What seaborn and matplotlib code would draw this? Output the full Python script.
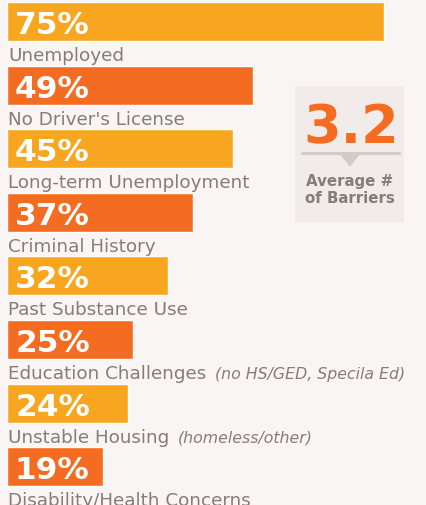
import matplotlib
matplotlib.use("Agg")
import matplotlib.pyplot as plt
from matplotlib.patches import Rectangle, Polygon
import seaborn as sns
import pandas as pd

# ---- data ----
categories = ["Unemployed", "No Driver's License", "Long-term Unemployment",
              "Criminal History", "Past Substance Use", "Education Challenges",
              "Unstable Housing", "Disability/Health Concerns"]
values = [75, 49, 45, 37, 32, 25, 24, 19]
notes = ["", "", "", "", "", "(no HS/GED, Specila Ed)", "(homeless/other)", ""]
average_barriers = 3.2
average_label = "Average #\nof Barriers"

# ---- style ----
BG = "#F8F5F4"
BOX = "#F1ECEA"
YELLOW = "#F8A51F"
ORANGE = "#F36C21"
GREY = "#857D76"
LINE = "#D3CBC5"

sns.set_theme(style="white")
plt.rcParams["font.family"] = ["DejaVu Sans"]

W, H = 426, 506
fig = plt.figure(figsize=(W / 100, H / 100), dpi=100, facecolor=BG)
ax = fig.add_axes([0, 0, 1, 1])
ax.set_facecolor(BG)

df = pd.DataFrame({"category": categories, "value": values})
palette = {c: (YELLOW if i % 2 == 0 else ORANGE) for i, c in enumerate(categories)}
sns.barplot(data=df, x="value", y="category", hue="category", palette=palette,
            orient="h", width=0.613, saturation=1, legend=False, ax=ax)

px_per_unit_x = 5.03
row_px = 63.6
x0_px = 7
y0_px = 22.5
ax.set_xlim(-x0_px / px_per_unit_x, (W - x0_px) / px_per_unit_x)
ax.set_ylim((H - y0_px) / row_px, -y0_px / row_px)
ax.axis("off")

for i, (cat, v, note) in enumerate(zip(categories, values, notes)):
    ax.annotate(f"{v}%", xy=(0, i), xytext=(8, -11.5), textcoords="offset pixels",
                ha="left", va="baseline", color="white", fontsize=22.5,
                fontweight="bold")
    lab = ax.annotate(cat, xy=(0, i), xytext=(1, -38.5), textcoords="offset pixels",
                      ha="left", va="baseline", color=GREY, fontsize=13.2)
    if note:
        ax.annotate(note, xy=(1, i), xycoords=(lab, "data"),
                    xytext=(9, -38.5), textcoords="offset pixels",
                    ha="left", va="baseline", color=GREY, fontsize=11.3,
                    fontstyle="italic")

# ---- average callout ----
def fx(p):
    return p / W

def fy(p):
    return 1 - p / H

fig.patches.append(Rectangle((fx(295), fy(223)), fx(404) - fx(295), fy(87) - fy(223),
                             transform=fig.transFigure, facecolor=BOX,
                             edgecolor="none", zorder=0))
fig.text(fx(351), fy(143), f"{average_barriers}", ha="center", va="baseline",
         color=ORANGE, fontsize=39, fontweight="bold")
fig.lines.append(plt.Line2D([fx(302), fx(399)], [fy(154), fy(154)],
                            transform=fig.transFigure, color=LINE, lw=2.3))
fig.patches.append(Polygon([(fx(340), fy(155)), (fx(360), fy(155)), (fx(350), fy(168))],
                           closed=True, transform=fig.transFigure,
                           facecolor=LINE, edgecolor="none"))
fig.text(fx(350), fy(190), average_label, ha="center", va="center",
         color=GREY, fontsize=10.8, fontweight="bold", linespacing=1.2)

fig.savefig("out.png", dpi=100, facecolor=BG)
